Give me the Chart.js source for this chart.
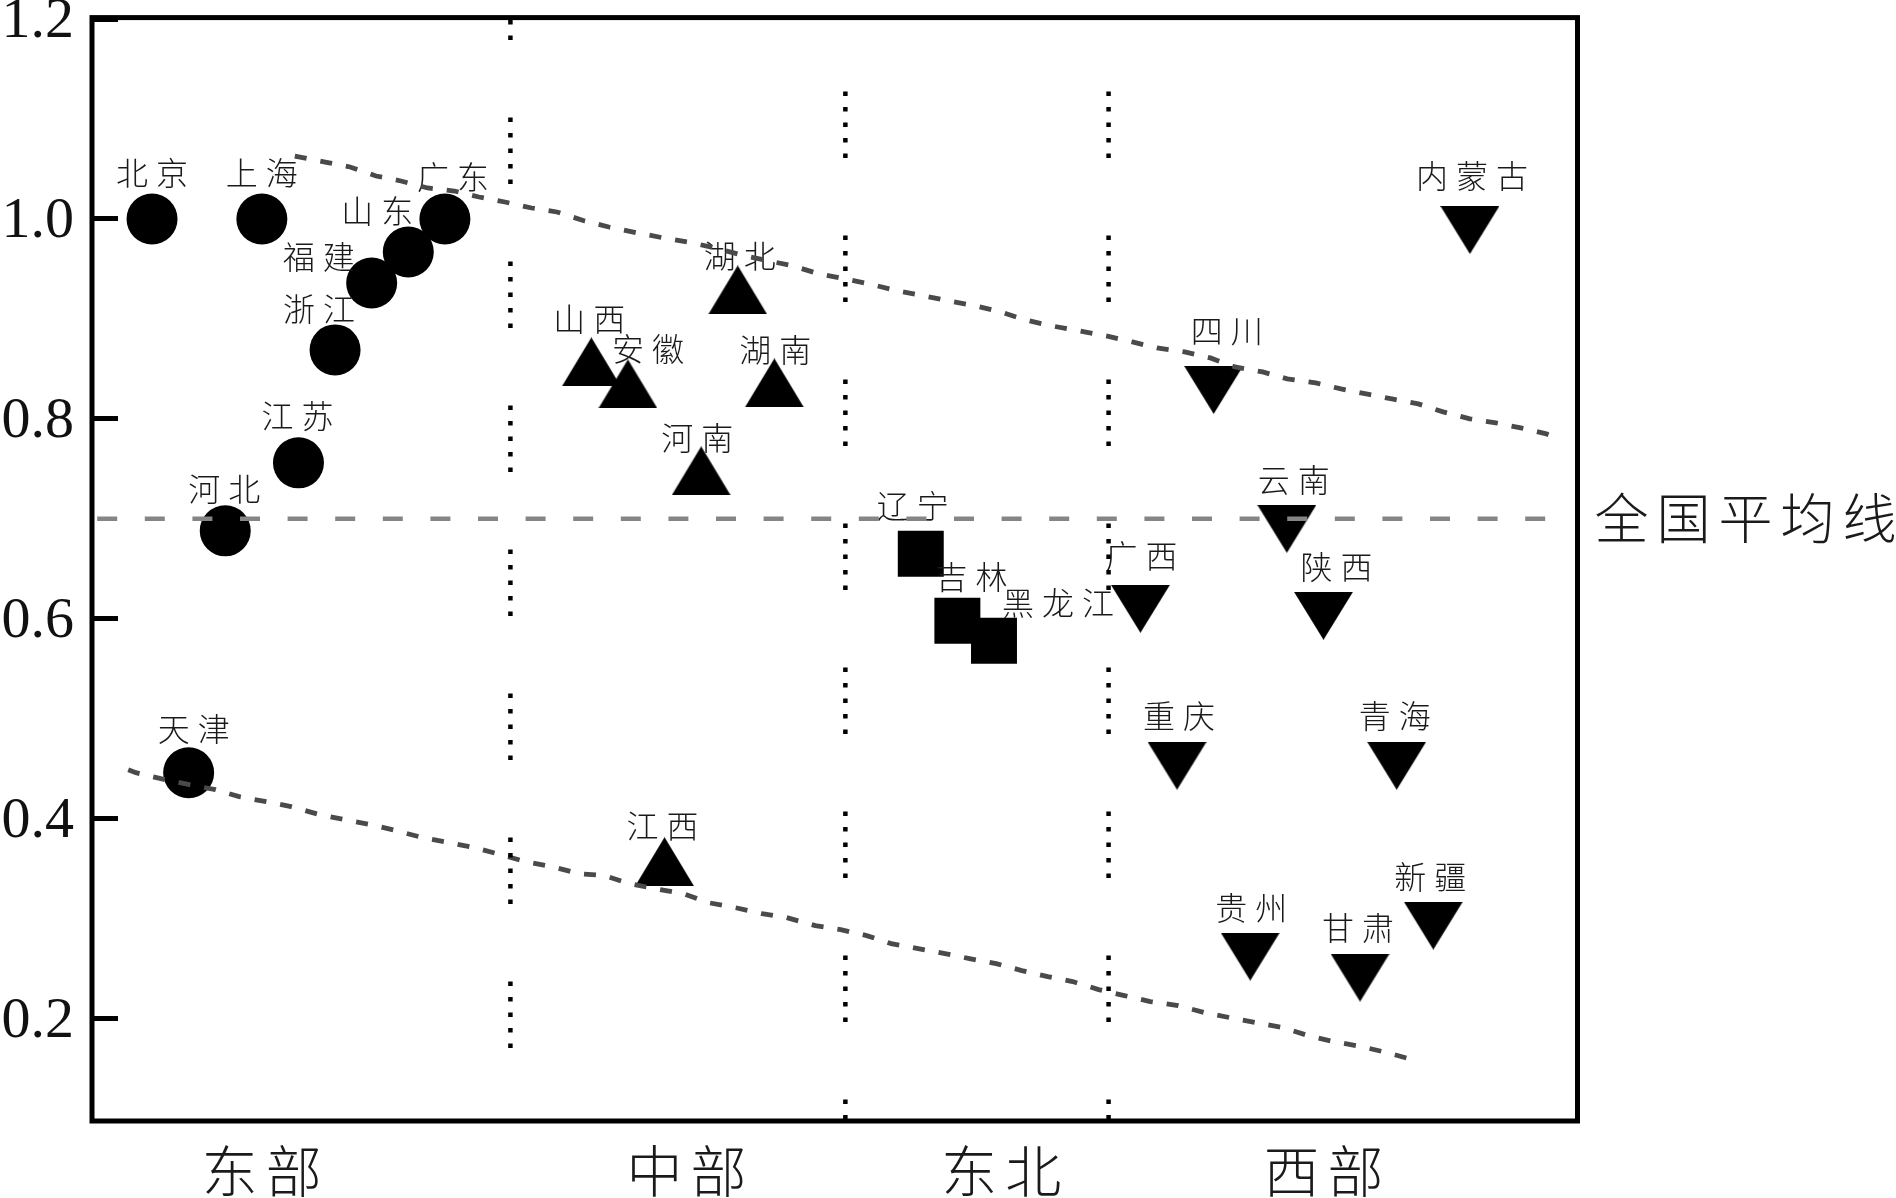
<!DOCTYPE html>
<html>
<head>
<meta charset="utf-8">
<script src="https://cdn.jsdelivr.net/npm/chart.js@4.4.1/dist/chart.umd.min.js"></script>
<style>
  html, body { margin: 0; padding: 0; background: #fff; }
  #wrap { width: 1896px; height: 1198px; position: relative; }
</style>
</head>
<body>
<div id="wrap"><canvas id="c"></canvas></div>
<script>
// ---------------- data ----------------
const eastNames = ['北京','天津','河北','上海','江苏','浙江','福建','山东','广东'];
const eastX     = [1, 2, 3, 4, 5, 6, 7, 8, 9];
const eastY     = [1.00, 0.446, 0.688, 1.00, 0.756, 0.869, 0.936, 0.967, 1.00];

const centralNames = ['山西','安徽','江西','河南','湖北','湖南'];
const centralX     = [13, 14, 15, 16, 17, 18];
const centralY     = [0.857, 0.835, 0.357, 0.748, 0.929, 0.836];

const northeastNames = ['辽宁','吉林','黑龙江'];
const northeastX     = [22, 23, 24];
const northeastY     = [0.665, 0.598, 0.578];

const westNames = ['广西','重庆','四川','贵州','云南','陕西','甘肃','青海','新疆','内蒙古'];
const westX     = [28, 29, 30, 31, 32, 33, 34, 35, 36, 37];
const westY     = [0.610, 0.453, 0.829, 0.262, 0.690, 0.603, 0.241, 0.453, 0.293, 0.989];

const upperX = [4.90,5.73,6.41,7.12,7.80,8.53,9.26,9.93,10.64,11.37,12.06,12.82,13.48,14.27,14.98,15.64,16.38,17.20,18.51,19.23,19.94,20.71,21.37,22.10,22.78,23.51,24.18,24.85,25.58,26.34,27.07,27.78,28.45,29.21,29.91,30.58,31.34,32.01,32.79,33.48,34.17,34.87,35.59,36.27,37.00,37.71,38.39,39.09,39.24];
const upperY = [1.063,1.057,1.052,1.043,1.038,1.031,1.028,1.022,1.017,1.011,1.007,0.998,0.992,0.986,0.981,0.977,0.971,0.963,0.953,0.945,0.940,0.934,0.928,0.923,0.918,0.913,0.907,0.899,0.893,0.888,0.883,0.877,0.871,0.867,0.861,0.852,0.847,0.840,0.836,0.830,0.825,0.820,0.815,0.807,0.800,0.796,0.791,0.785,0.783];

const lowerX = [0.35,0.56,1.24,2.02,2.73,3.38,4.12,4.80,5.58,6.26,6.99,7.67,8.39,9.11,9.81,10.52,11.20,11.93,12.66,13.36,14.03,14.73,15.52,16.19,16.93,17.66,18.33,19.12,19.81,20.52,21.19,21.93,22.66,23.33,24.06,24.76,25.47,26.15,26.86,27.56,28.27,29.03,29.74,30.43,31.16,31.88,32.58,33.27,34.03,34.73,35.42,35.56];
const lowerY = [0.449,0.446,0.440,0.434,0.429,0.422,0.417,0.412,0.404,0.399,0.394,0.388,0.381,0.376,0.371,0.364,0.357,0.352,0.345,0.343,0.335,0.330,0.325,0.316,0.311,0.305,0.301,0.293,0.289,0.283,0.275,0.270,0.265,0.260,0.255,0.248,0.242,0.237,0.229,0.223,0.217,0.213,0.206,0.201,0.196,0.191,0.183,0.177,0.172,0.166,0.159,0.159];

const separatorX = [10.79, 19.94, 27.13];
const nationalAvg = 0.70;
const nationalAvgLabel = '全国平均线';
const avgLineEndX = 39.2;

const regionNames  = ['东部','中部','东北','西部'];
const regionLabelX = [4.0, 15.6, 24.2, 33.0];

const yTicks = [0.2, 0.4, 0.6, 0.8, 1.0, 1.2];
const xMin = -0.64, xMax = 39.94, yMin = 0.0975, yMax = 1.2015;

// ---------------- label placement (pixel offsets from marker centre) ----------------
const labelOffsets = {
  '北京':[0,-46], '天津':[5,-44], '河北':[-1,-42], '上海':[0,-46], '江苏':[-1,-47],
  '浙江':[-16,-41], '福建':[-53,-26], '山东':[-31,-41], '广东':[8,-42],
  '山西':[-2,-43], '安徽':[20,-35], '江西':[-2,-36], '河南':[-4,-33], '湖北':[2,-34], '湖南':[1,-33],
  '辽宁':[-8,-48], '吉林':[14,-44], '黑龙江':[64,-38],
  '广西':[1,-53], '重庆':[2,-50], '四川':[13,-59], '贵州':[1,-49], '云南':[7,-49],
  '陕西':[13,-49], '甘肃':[-2,-50], '青海':[-2,-50], '新疆':[-3,-49], '内蒙古':[2,-54]
};

// ---------------- marker images ----------------
function triangleImage(w, h, down) {
  const c = document.createElement('canvas');
  c.width = w; c.height = h;
  const g = c.getContext('2d');
  g.fillStyle = '#000';
  g.beginPath();
  if (down) { g.moveTo(0, 0); g.lineTo(w, 0); g.lineTo(w / 2, h); }
  else { g.moveTo(w / 2, 0); g.lineTo(w, h); g.lineTo(0, h); }
  g.closePath();
  g.fill();
  return c;
}
const upTri = triangleImage(59, 49, false);
const downTri = triangleImage(59, 48, true);

const pts = (xs, ys) => xs.map((x, i) => ({ x: x, y: ys[i] }));

const groups = [
  { names: eastNames, data: pts(eastX, eastY), style: 'circle', radius: 25.5 },
  { names: centralNames, data: pts(centralX, centralY), style: upTri, radius: 30 },
  { names: northeastNames, data: pts(northeastX, northeastY), style: 'rect', radius: 32.5 },
  { names: westNames, data: pts(westX, westY), style: downTri, radius: 30 }
];

const datasets = groups.map((g, i) => ({
  label: regionNames[i],
  data: g.data,
  pointStyle: g.style,
  pointRadius: g.radius,
  pointBackgroundColor: '#000',
  pointBorderColor: '#000',
  pointBorderWidth: 0,
  showLine: false,
  order: 10
}));

const dotDash = [4.5, 11, 4.5, 11, 4.5, 11, 4.5, 11, 4.5, 77.5];
const sepOffsets = [44, 70, 70];
separatorX.forEach((sx, i) => {
  datasets.push({
    label: 'sep' + i,
    data: [{ x: sx, y: yMax }, { x: sx, y: yMin }],
    showLine: true, pointRadius: 0, borderColor: '#000', borderWidth: 4.5,
    borderDash: dotDash, borderDashOffset: sepOffsets[i], borderCapStyle: 'butt', order: 1
  });
});

datasets.push({
  label: 'upper', data: pts(upperX, upperY), showLine: true, pointRadius: 0,
  borderColor: '#4a4a4a', borderWidth: 4.8, borderDash: [12, 14], tension: 0, order: 1
});
datasets.push({
  label: 'lower', data: pts(lowerX, lowerY), showLine: true, pointRadius: 0,
  borderColor: '#4a4a4a', borderWidth: 4.8, borderDash: [12, 14], tension: 0, order: 1
});
datasets.push({
  label: 'avg', data: [{ x: xMin, y: nationalAvg }, { x: avgLineEndX, y: nationalAvg }],
  showLine: true, pointRadius: 0, borderColor: '#858585', borderWidth: 4.5,
  borderDash: [20, 27.6], borderDashOffset: 42.4, order: 1
});

// ---------------- plugins ----------------
const CJK = '"Noto Sans CJK SC", "Noto Sans CJK TC", sans-serif';

const provinceLabels = {
  id: 'provinceLabels',
  afterDatasetDraw(chart, args) {
    if (args.index !== 0) return; // last scatter group drawn
    const ctx = chart.ctx;
    ctx.save();
    ctx.font = '300 32px ' + CJK;
    ctx.fillStyle = '#1a1a1a';
    ctx.textAlign = 'center';
    ctx.textBaseline = 'middle';
    ctx.letterSpacing = '8px';
    groups.forEach((g, gi) => {
      const meta = chart.getDatasetMeta(gi);
      meta.data.forEach((el, i) => {
        const name = g.names[i];
        const off = labelOffsets[name] || [0, -45];
        ctx.fillText(name, el.x + off[0] + 4, el.y + off[1]);
      });
    });
    ctx.restore();
  }
};

const frameAndAvgLabel = {
  id: 'frameAndAvgLabel',
  afterDraw(chart) {
    const ctx = chart.ctx;
    const a = chart.chartArea;
    ctx.save();
    ctx.strokeStyle = '#000';
    ctx.lineWidth = 5;
    ctx.strokeRect(a.left, a.top, a.right - a.left, a.bottom - a.top);
    const y = chart.scales.y.getPixelForValue(nationalAvg);
    ctx.font = '300 54px ' + CJK;
    ctx.fillStyle = '#1a1a1a';
    ctx.textAlign = 'left';
    ctx.textBaseline = 'middle';
    ctx.letterSpacing = '8px';
    ctx.fillText(nationalAvgLabel, a.right + 17, y);
    ctx.restore();
  }
};

// ---------------- chart ----------------
new Chart(document.getElementById('c'), {
  type: 'scatter',
  data: { datasets: datasets },
  plugins: [provinceLabels, frameAndAvgLabel],
  options: {
    responsive: true,
    maintainAspectRatio: false,
    animation: false,
    events: [],
    layout: { autoPadding: false, padding: { left: 0, right: 318.5, top: 17.6, bottom: 0 } },
    plugins: { legend: { display: false }, tooltip: { enabled: false }, title: { display: false } },
    scales: {
      x: {
        type: 'linear', position: 'bottom', min: xMin, max: xMax, bounds: 'data',
        grid: { display: false, drawTicks: false },
        border: { display: false },
        afterBuildTicks(scale) { scale.ticks = regionLabelX.map(v => ({ value: v })); },
        afterFit(scale) {
          scale.height = 77;
          scale.paddingLeft = 0; scale.paddingRight = 0;
          if (!scale._spacedLabels) {
            const orig = scale.drawLabels;
            scale.drawLabels = function (area) {
              const c = this.ctx;
              c.save();
              c.letterSpacing = '8px';
              c.translate(4, 0);
              orig.call(this, area);
              c.restore();
            };
            scale._spacedLabels = true;
          }
        },
        ticks: {
          autoSkip: false, maxRotation: 0, minRotation: 0, padding: 16,
          color: '#1a1a1a',
          font: { family: CJK, size: 56, weight: '300' },
          callback: (v, i) => regionNames[i]
        }
      },
      y: {
        type: 'linear', position: 'left', min: yMin, max: yMax, bounds: 'data',
        grid: {
          display: true, drawOnChartArea: false, drawTicks: true, tickLength: -26,
          lineWidth: 5, tickWidth: 5, color: '#000', tickColor: '#000'
        },
        border: { display: false },
        afterBuildTicks(scale) { scale.ticks = yTicks.map(v => ({ value: v })); },
        afterFit(scale) {
          scale.width = 92;
          scale.paddingTop = 0; scale.paddingBottom = 0;
        },
        ticks: {
          padding: 44, color: '#111', labelOffset: 3,
          font: { family: '"Liberation Serif", "Times New Roman", serif', size: 58, lineHeight: 0.5 },
          callback: (v) => Number(v).toFixed(1)
        }
      }
    }
  }
});
</script>
</body>
</html>
